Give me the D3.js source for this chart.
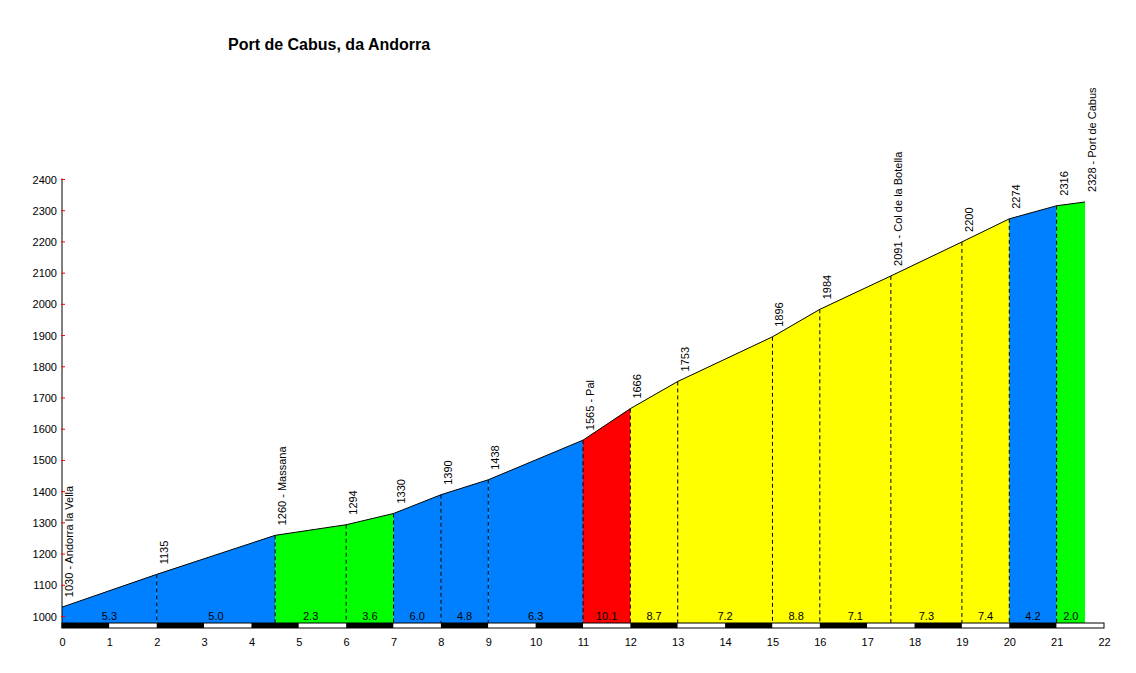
<!DOCTYPE html>
<html>
<head>
<meta charset="utf-8">
<script src="https://cdn.jsdelivr.net/npm/d3@7"></script>
<style>
  body { margin: 0; background: #fff; }
  text { font-family: Arial, "Liberation Sans", sans-serif; }
</style>
</head>
<body>
<div id="chart"></div>
<script>
// profile points: km, altitude, place name
var kmPoints = [0, 2, 4.5, 6, 7, 8, 9, 11, 12, 13, 15, 16, 17.5, 19, 20, 21, 21.6]
var altitudes = [1030, 1135, 1260, 1294, 1330, 1390, 1438, 1565, 1666, 1753, 1896, 1984, 2091, 2200, 2274, 2316, 2328]
var placeNames = ["Andorra la Vella", "", "Massana", "", "", "", "", "Pal", "", "", "", "", "Col de la Botella", "", "", "", "Port de Cabus"]
// gradient (%) of each segment
var grades = [5.3, 5.0, 2.3, 3.6, 6.0, 4.8, 6.3, 10.1, 8.7, 7.2, 8.8, 7.1, 7.3, 7.4, 4.2, 2.0]
var yTicks = d3.range(1000, 2401, 100)
var xTicks = d3.range(0, 23, 1)
var title = "Port de Cabus, da Andorra"

var width = 1136
var height = 673
var base = 623   // bottom of the filled profile

var svg = d3.select("#chart").append("svg").attr("width", width).attr("height", height)

var x = d3.scaleLinear().domain([0, 22]).range([62, 1104])
var y = d3.scaleLinear().domain([1000, 2400]).range([616.5, 179.5])

var gradeColor = d3.scaleThreshold()
    .domain([4, 7, 10])
    .range(["#00ff00", "#0080ff", "#ffff00", "#ff0000"])

var points = kmPoints.map((k, i) => ({ km: k, alt: altitudes[i], name: placeNames[i] }))

// coloured segments
var segments = grades.map((g, i) => ({ a: points[i], b: points[i + 1], grade: g }))

svg.selectAll(".segment")
    .data(segments)
    .enter()
    .append("path")
    .attr("class", "segment")
    .attr("fill", d => gradeColor(d.grade))
    .attr("d", d => "M" + x(d.a.km) + "," + base +
        "L" + x(d.a.km) + "," + y(d.a.alt) +
        "L" + x(d.b.km) + "," + y(d.b.alt) +
        "L" + x(d.b.km) + "," + base + "Z")

// dashed separators
svg.selectAll(".sep")
    .data(points.slice(1, -1))
    .enter()
    .append("line")
    .attr("class", "sep")
    .attr("x1", d => x(d.km)).attr("x2", d => x(d.km))
    .attr("y1", d => y(d.alt)).attr("y2", base)
    .attr("stroke", "#000")
    .attr("stroke-width", 1)
    .attr("stroke-dasharray", "4,3")

// profile line
svg.append("path")
    .datum(points)
    .attr("fill", "none")
    .attr("stroke", "#000")
    .attr("stroke-width", 1)
    .attr("d", d3.line().x(d => x(d.km)).y(d => y(d.alt)))

// gradient labels
svg.selectAll(".grade")
    .data(segments)
    .enter()
    .append("text")
    .attr("class", "grade")
    .attr("x", d => (x(d.a.km) + x(d.b.km)) / 2)
    .attr("y", 620)
    .attr("text-anchor", "middle")
    .attr("font-size", 11)
    .text(d => d.grade.toFixed(1))

// altitude labels (rotated)
svg.selectAll(".alt-label")
    .data(points)
    .enter()
    .append("text")
    .attr("class", "alt-label")
    .attr("transform", d => "translate(" + (x(d.km) + 11) + "," + (y(d.alt) - 10) + ") rotate(-90)")
    .attr("font-size", 11)
    .text(d => d.name ? d.alt + " - " + d.name : d.alt)

// km bar
var kmBar = d3.range(0, 22).map(k => ({ k: k, dark: k % 2 === 0 }))
svg.selectAll(".kmbar")
    .data(kmBar)
    .enter()
    .append("rect")
    .attr("class", "kmbar")
    .attr("x", d => x(d.k))
    .attr("y", base)
    .attr("width", d => x(d.k + 1) - x(d.k))
    .attr("height", 5)
    .attr("fill", d => d.dark ? "#000" : "#fff")
svg.append("rect")
    .attr("x", x(0)).attr("y", base)
    .attr("width", x(22) - x(0)).attr("height", 5)
    .attr("fill", "none").attr("stroke", "#000").attr("stroke-width", 1)

// y axis
svg.append("line")
    .attr("x1", x(0)).attr("x2", x(0))
    .attr("y1", y(2400) - 1).attr("y2", base + 5)
    .attr("stroke", "#000")

svg.selectAll(".ytick")
    .data(yTicks)
    .enter()
    .append("line")
    .attr("class", "ytick")
    .attr("x1", x(0) - 1).attr("x2", x(0) + 3)
    .attr("y1", d => y(d)).attr("y2", d => y(d))
    .attr("stroke", "#ff0000")

svg.selectAll(".ylabel")
    .data(yTicks)
    .enter()
    .append("text")
    .attr("class", "ylabel")
    .attr("x", x(0) - 5)
    .attr("y", d => y(d) + 4)
    .attr("text-anchor", "end")
    .attr("font-size", 11)
    .text(d => d)

// x axis labels
var xAxis = svg.append("g")
    .attr("transform", "translate(0," + (base + 12) + ")")
    .call(d3.axisBottom(x).tickValues(xTicks).tickSize(0).tickFormat(d3.format("d")))
xAxis.select(".domain").remove()
xAxis.selectAll("text")
    .attr("font-size", 11)
    .attr("font-family", "Arial, 'Liberation Sans', sans-serif")
    .attr("fill", "#000")

// title
svg.append("text")
    .attr("x", 228)
    .attr("y", 50)
    .attr("font-size", 16)
    .attr("font-weight", "bold")
    .text(title)
</script>
</body>
</html>
